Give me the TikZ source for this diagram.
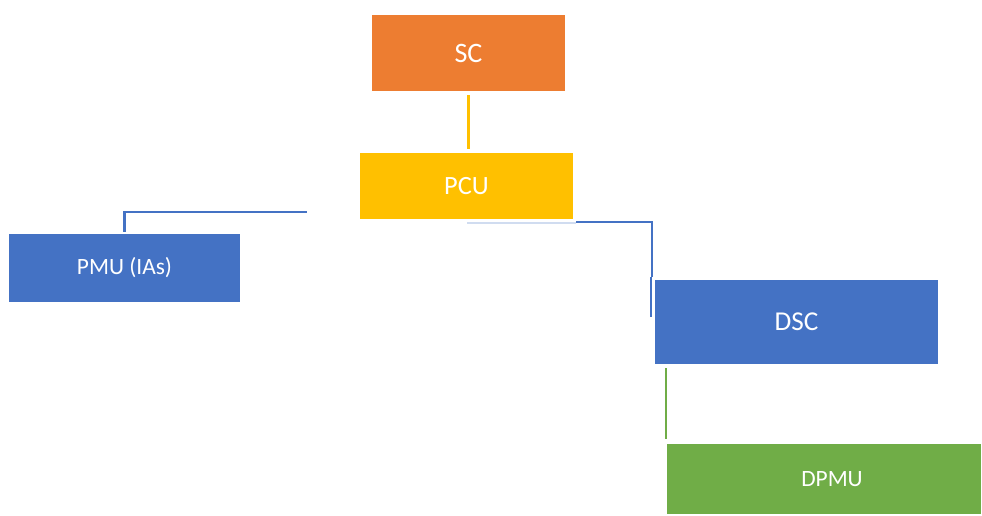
\documentclass[tikz,border=0pt]{standalone}
\usepackage{fontspec}
\setmainfont{Carlito}
\usepackage{xcolor}

\definecolor{scorange}{HTML}{ED7D31}
\definecolor{pcuyellow}{HTML}{FFC000}
\definecolor{unitblue}{HTML}{4472C4}
\definecolor{dpmugreen}{HTML}{70AD47}

\begin{document}
\begin{tikzpicture}[
		box/.style={rectangle, inner sep=0pt, text=white},
		link/.style={line width=1.2pt}
	]
			\useasboundingbox (0, 0) rectangle (19.64, 10.30);

			\draw (9.37, 9.24) 	node[box, fill=scorange, minimum width=3.86cm, minimum height=1.52cm, font=\fontsize{16}{19}\selectfont] 	(sc) 		{SC};
			\draw (9.33, 6.58) 	node[box, fill=pcuyellow, minimum width=4.26cm, minimum height=1.32cm, font=\fontsize{15}{18}\selectfont] 	(pcu) 		{PCU};
			\draw (2.49, 4.94) 	node[box, fill=unitblue, minimum width=4.62cm, minimum height=1.36cm, font=\fontsize{13.3}{16}\selectfont] 	(pmu) 		{PMU (IAs)};
			\draw (15.93, 3.86) 	node[box, fill=unitblue, minimum width=5.66cm, minimum height=1.68cm, font=\fontsize{15.5}{18}\selectfont] 	(dsc) 		{DSC};
			\draw (16.48, 0.72) 	node[box, fill=dpmugreen, minimum width=6.28cm, minimum height=1.40cm, font=\fontsize{13.3}{16}\selectfont] 	(dpmu) 		{\hspace*{0.32cm}DPMU};

			\coordinate (pmu_end) 	at (6.14, 6.06);
			\coordinate (pcu_r) 	at (11.52, 5.86);
			\coordinate (dsc_l) 	at (13.04, 4.76);
			\coordinate (dsc_ll) 	at (13.02, 3.96);
			\coordinate (pcu_b) 	at (9.34, 5.84);
			\coordinate (dpmu_top) 	at (13.32, 2.94);

			\draw[link, pcuyellow, line width=1.5pt, shorten <=2.2pt, shorten >=1.8pt] (sc.south) -- (sc.south |- pcu.north);
			\draw[link, unitblue, shorten <=1pt] (pmu.north) |- (pmu_end);
			\draw[link, unitblue] (pcu_r) -| (dsc_l);
			\draw[unitblue, line width=0.6pt] (dsc_l -| dsc_ll) -- (dsc_ll);
			\draw[unitblue!25, line width=0.6pt] (pcu_b) -- (pcu_r |- pcu_b);
			\draw[link, dpmugreen, shorten >=2.4pt] (dpmu_top) -- (dpmu_top |- dpmu.north);
		\end{tikzpicture}
\end{document}
